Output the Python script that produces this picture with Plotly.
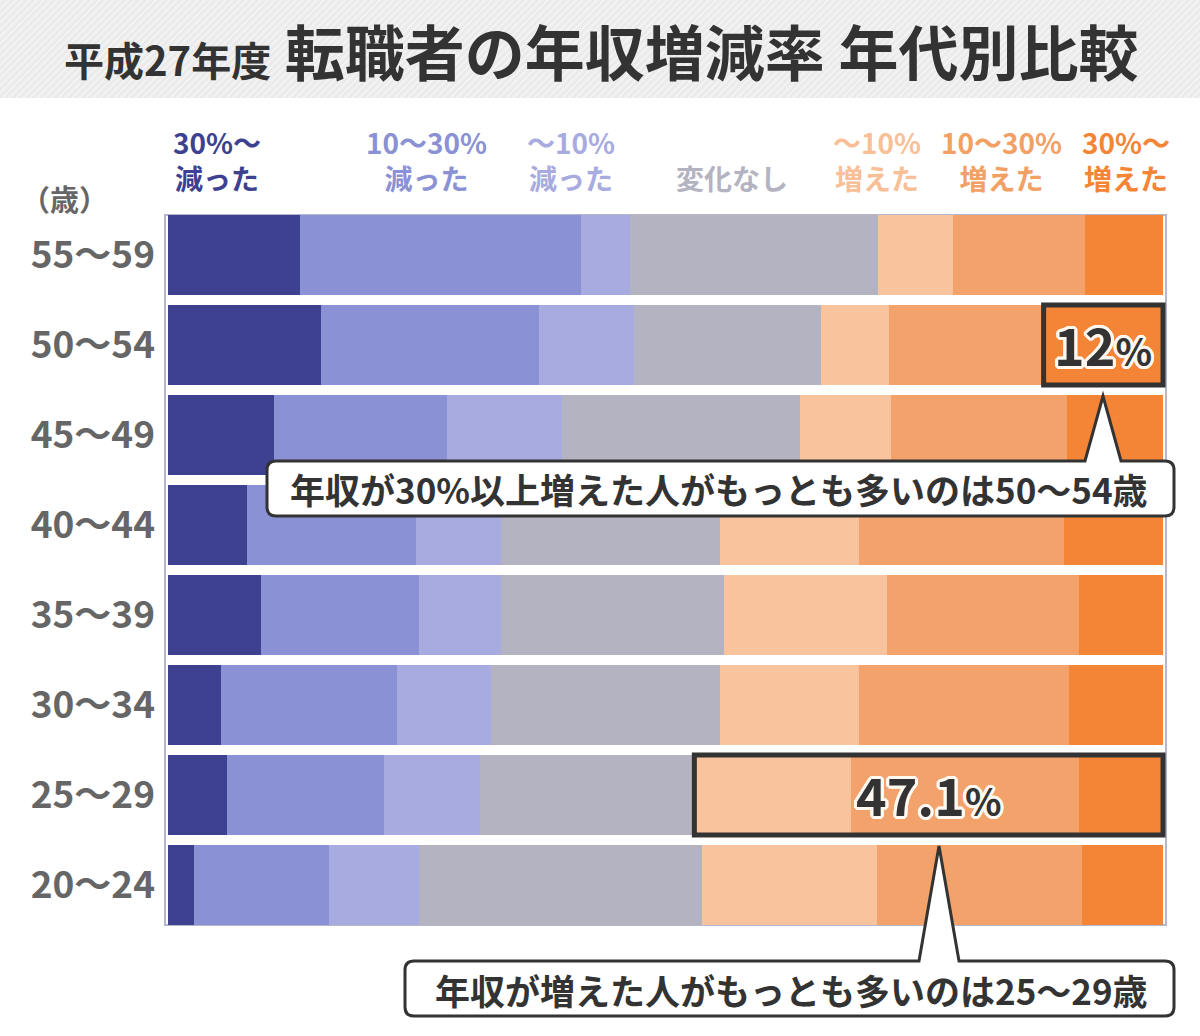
import plotly.graph_objects as go

# ---------------- data ----------------
ages = ["55〜59", "50〜54", "45〜49", "40〜44", "35〜39", "30〜34", "25〜29", "20〜24"]
series_names = ["30%〜減った", "10〜30%減った", "〜10%減った", "変化なし",
                "〜10%増えた", "10〜30%増えた", "30%〜増えた"]
dec_30_plus = [13.3, 15.4, 10.7, 7.9, 9.3, 5.3, 5.9, 2.6]
dec_10_30 = [28.2, 21.9, 17.3, 17.0, 15.9, 17.7, 15.8, 13.6]
dec_0_10 = [4.9, 9.5, 11.6, 8.6, 8.3, 9.5, 9.7, 9.0]
no_change = [25.0, 18.8, 23.9, 22.0, 22.4, 23.0, 21.5, 28.5]
inc_0_10 = [7.5, 6.9, 9.2, 13.9, 16.4, 13.9, 15.7, 17.6]
inc_10_30 = [13.3, 15.5, 17.6, 20.6, 19.3, 21.2, 23.0, 20.6]
inc_30_plus = [7.8, 12.0, 9.7, 10.0, 8.4, 9.4, 8.4, 8.1]
series_values = [dec_30_plus, dec_10_30, dec_0_10, no_change, inc_0_10, inc_10_30, inc_30_plus]
legend_line1 = ["30%〜", "10〜30%", "〜10%", "", "〜10%", "10〜30%", "30%〜"]
legend_line2 = ["減った", "減った", "減った", "変化なし", "増えた", "増えた", "増えた"]

title_small = "平成27年度"
title_main = "転職者の年収増減率 年代別比較"
callout1_text = "年収が30%以上増えた人がもっとも多いのは50〜54歳"
callout2_text = "年収が増えた人がもっとも多いのは25〜29歳"

# ---------------- styling ----------------
colors = ["#3d4190", "#8a91d4", "#a8abe0", "#b3b3c1", "#f9c39d", "#f2a26a", "#f58536"]
label_colors = ["#3d4190", "#8a91d4", "#a8abe0", "#b3b3c1", "#f9bf96", "#f2a064", "#f58536"]
FONT = "Noto Sans CJK JP, Noto Sans, sans-serif"
W, H = 1200, 1036
L, R, T, B = 164, 33, 210, 106
PW, PH = W - L - R, H - T - B


def px(x):
    return (x - L) / PW


def py(y):
    return (H - B - y) / PH


def text_ann(x, y, text, size, color, **kw):
    d = dict(xref="paper", yref="paper", x=px(x), y=py(y), showarrow=False,
             xanchor="center", yanchor="middle", text=text,
             font=dict(family=FONT, size=size, color=color, weight="bold"))
    d.update(kw)
    return d


fig = go.Figure()
for name, vals, col in zip(series_names, series_values, colors):
    fig.add_trace(go.Bar(
        y=ages, x=vals, orientation="h", name=name,
        marker=dict(color=col, line=dict(width=0)),
        hoverinfo="skip", showlegend=False,
    ))

shapes = []
annotations = []

# title banner with diagonal stripes
shapes.append(dict(type="rect", xref="paper", yref="paper",
                   x0=px(0), x1=px(W), y0=py(98), y1=py(0),
                   fillcolor="#ebebeb", line=dict(width=0), layer="below"))
stripe = ""
for k in range(-110, W + 10, 7):
    stripe += f"M{px(k):.5f},{py(98):.5f} L{px(k + 98):.5f},{py(0):.5f} "
shapes.append(dict(type="path", xref="paper", yref="paper", path=stripe,
                   line=dict(color="#f5f5f5", width=1.5), layer="below"))

# frame around bars
shapes.append(dict(type="rect", xref="x", yref="y", x0=-0.3, x1=100.3,
                   y0=-0.445, y1=len(ages) - 1 + 0.445,
                   line=dict(color="#b5b8cc", width=2), fillcolor="rgba(0,0,0,0)",
                   layer="below"))

# highlight boxes
i50 = ages.index("50〜54")
x0_12 = 100 - inc_30_plus[i50]
shapes.append(dict(type="rect", xref="x", yref="y", x0=x0_12, x1=100,
                   y0=i50 - 0.445, y1=i50 + 0.445,
                   line=dict(color="#333333", width=5), layer="above"))
i25 = ages.index("25〜29")
inc_total = inc_0_10[i25] + inc_10_30[i25] + inc_30_plus[i25]
x0_47 = 100 - inc_total
shapes.append(dict(type="rect", xref="x", yref="y", x0=x0_47, x1=100,
                   y0=i25 - 0.445, y1=i25 + 0.445,
                   line=dict(color="#333333", width=5), layer="above"))

outline = ", ".join(f"{dx}px {dy}px 0 #fff8f0" for dx, dy in
                    [(3, 0), (-3, 0), (0, 3), (0, -3), (2, 2), (-2, -2), (2, -2), (-2, 2),
                     (3, 1), (-3, 1), (3, -1), (-3, -1), (1, 3), (-1, 3), (1, -3), (-1, -3)])
annotations.append(dict(
    xref="x", yref="y", x=(x0_12 + 100) / 2, y=i50, showarrow=False,
    xanchor="center", yanchor="middle",
    text=f"{inc_30_plus[i50]:g}<span style='font-size:38px'>%</span>",
    font=dict(family=FONT, size=52, color="#333333", weight="bold", shadow=outline),
    yshift=2))
annotations.append(dict(
    xref="x", yref="y", x=(x0_47 + 100) / 2, y=i25, showarrow=False,
    xanchor="center", yanchor="middle",
    text=f"{inc_total:.1f}<span style='font-size:38px'>%</span>",
    font=dict(family=FONT, size=52, color="#333333", weight="bold", shadow=outline),
    yshift=2))


def callout(l, r, t, b, bx0, bx1, tipx, tipy, rad=9):
    p = f"M{px(l + rad)},{py(t)} L{px(bx0)},{py(t)} L{px(tipx)},{py(tipy)} L{px(bx1)},{py(t)} "
    p += f"L{px(r - rad)},{py(t)} Q{px(r)},{py(t)} {px(r)},{py(t + rad)} "
    p += f"L{px(r)},{py(b - rad)} Q{px(r)},{py(b)} {px(r - rad)},{py(b)} "
    p += f"L{px(l + rad)},{py(b)} Q{px(l)},{py(b)} {px(l)},{py(b - rad)} "
    p += f"L{px(l)},{py(t + rad)} Q{px(l)},{py(t)} {px(l + rad)},{py(t)} Z"
    return dict(type="path", xref="paper", yref="paper", path=p,
                fillcolor="#ffffff", line=dict(color="#333333", width=3), layer="above")


shapes.append(callout(267, 1174, 461, 516, 1085, 1121, 1103, 396))
shapes.append(callout(405, 1174, 961, 1016, 919, 959, 939, 846))
annotations.append(text_ann(719, 489, callout1_text, 35, "#333333"))
annotations.append(text_ann(791, 989, callout2_text, 35, "#333333"))

# title
annotations.append(text_ann(
    601, 50, f"<span style='font-size:40px'>{title_small}</span> {title_main}", 60, "#333333"))

# legend labels above columns
legend_x = [217, 426, 571, 732, 877, 1001, 1126]
for t1, t2, c, lx in zip(legend_line1, legend_line2, label_colors, legend_x):
    if t1:
        annotations.append(text_ann(lx, 160, f"{t1}<br>{t2}", 28, c))
    else:
        annotations.append(text_ann(lx, 178, t2, 28, c))

annotations.append(text_ann(64, 198, "（歳）", 29, "#666666"))

fig.update_layout(
    width=W, height=H,
    margin=dict(l=L, r=R, t=T, b=B, pad=0),
    paper_bgcolor="#ffffff", plot_bgcolor="#ffffff",
    barmode="stack", bargap=0.11,
    xaxis=dict(range=[-0.4, 100.4], visible=False, fixedrange=True),
    yaxis=dict(categoryorder="array", categoryarray=ages, autorange="reversed",
               showgrid=False, zeroline=False, showline=False, ticks="",
               ticklabelstandoff=8,
               tickfont=dict(family=FONT, size=37, color="#666666", weight="bold"),
               fixedrange=True),
    shapes=shapes, annotations=annotations,
)

fig.write_html("out.html", config={"displayModeBar": False})
